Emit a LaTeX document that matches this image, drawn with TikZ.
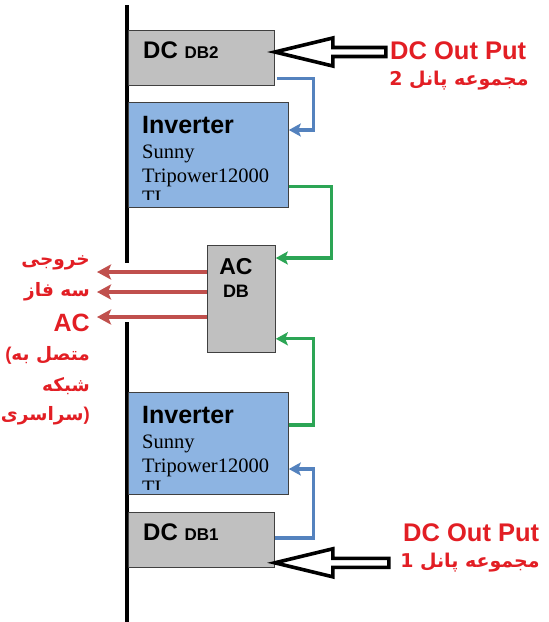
\documentclass[tikz,border=0pt]{standalone}
\usepackage{fontspec}
\setmainfont{Liberation Sans}
\newfontfamily\serifpart{Liberation Serif}
\newfontfamily\arabicfont[Script=Arabic]{DejaVu Sans}
\TeXXeTstate=1
\usetikzlibrary{positioning,arrows.meta,calc}

\definecolor{boxgrey}{RGB}{192,192,192}
\definecolor{invblue}{RGB}{141,180,226}
\definecolor{dcblue}{RGB}{84,130,190}
\definecolor{acgreen}{RGB}{44,165,85}
\definecolor{outred}{RGB}{192,80,77}
\definecolor{labelred}{RGB}{226,30,36}

\begin{document}
\begin{tikzpicture}[x=1pt, y=-1pt,
  dbbox/.style={draw=black!75, line width=0.8pt, fill=boxgrey, inner sep=0pt, anchor=north west},
  invbox/.style={dbbox, fill=invblue},
  dcflow/.style={draw=dcblue, line width=3.2pt, -{Stealth[length=12pt,width=13pt,inset=2.5pt]}},
  acflow/.style={dcflow, draw=acgreen},
  gridout/.style={draw=outred, line width=4.2pt, -{Stealth[length=14pt,width=15pt,inset=3pt]}},
  bigarrow/.style={draw=black, line width=3.6pt, fill=white, line join=miter},
  redlbl/.style={text=labelred, font=\bfseries, inner sep=0pt},
  boxtxt/.style={inner sep=0pt, anchor=base west}]
\useasboundingbox (0,0) rectangle (549,622);
% the board rail, broken where the AC outputs pass
\draw[line width=3.6pt] (127,5) -- (127,263);
\draw[line width=3.6pt] (127,322) -- (127,622);

% boxes, top to bottom
\node[dbbox, minimum width=146pt, minimum height=55pt] (db2) at (128,30) {};
\node[invbox, minimum width=160pt, minimum height=105pt] (invA) at (128,102) {};
\node[dbbox, minimum width=68pt, minimum height=107pt] (acdb) at (207,245) {};
\node[invbox, minimum width=160pt, minimum height=102pt] (invB) at (128,392) {};
\node[dbbox, minimum width=146pt, minimum height=55pt] (db1) at (128,512) {};

\foreach \b/\n in {db2/2, db1/1}{%
  \node[boxtxt] (\b txt) at ($(\b.north west)+(15,28)$)
    {\fontsize{24}{24}\selectfont\bfseries DC \fontsize{17}{17}\selectfont DB\n};}

\foreach \inv in {invA, invB}{%
  \node[boxtxt, font=\fontsize{25}{25}\selectfont\bfseries] (\inv name) at ($(\inv.north west)+(14,31)$) {Inverter};
  \node[boxtxt, font=\fontsize{20.5}{20.5}\selectfont\serifpart] (\inv sunny) at ($(\inv.north west)+(14,56)$) {Sunny};
  \node[boxtxt, font=\fontsize{20.5}{20.5}\selectfont\serifpart] (\inv model) at ($(\inv.north west)+(14,80)$) {Tripower12000};
  \begin{scope}
    \clip ($(\inv.north west)+(1,1)$) rectangle ($(\inv.north east)+(-1,97)$);
    \node[boxtxt, font=\fontsize{20.5}{20.5}\selectfont\serifpart] (\inv tl) at ($(\inv.north west)+(14,102)$) {TL};
  \end{scope}}

\node[inner sep=0pt, anchor=base, font=\fontsize{23}{23}\selectfont\bfseries] (actop) at (236,274) {AC};
\node[inner sep=0pt, anchor=base, font=\fontsize{18}{18}\selectfont\bfseries] (acsub) at (236,297) {DB};

% DC feeds into the inverters
\draw[dcflow] ($(db2.south east)+(2,-7)$) -- ++(37,0) |- ($(invA.north east)+(0,28)$);
\draw[dcflow] ($(db1.north east)+(0,26)$) -- ++(39,0) |- ($(invB.north east)+(0,77)$);
% AC from the inverters
\draw[acflow] ($(invA.south east)+(0,-21)$) -- ++(43,0) |- ($(acdb.north east)+(0,13)$);
\draw[acflow] ($(invB.north east)+(0,33)$) -- ++(25,0) |- ($(acdb.south east)+(0,-14)$);

% three phase output
\foreach \dy [count=\i] in {27,47,72}{%
  \coordinate (phase\i) at ($(acdb.north west)+(-110,\dy)$);
  \draw[gridout] ($(acdb.north west)+(0,\dy)$) -- (phase\i);}

% panel inputs
\node[redlbl, anchor=west, font=\fontsize{25.5}{25.5}\selectfont\bfseries] (out2) at (390,51) {DC Out Put};
\node[redlbl, font=\fontsize{19}{19}\selectfont\arabicfont\bfseries] (pan2) at (459,81) {\beginR مجموعه پانل 2\endR};
\node[redlbl, anchor=west, font=\fontsize{25.5}{25.5}\selectfont\bfseries] (out1) at (403,533) {DC Out Put};
\node[redlbl, font=\fontsize{19}{19}\selectfont\arabicfont\bfseries] (pan1) at (470,563) {\beginR مجموعه پانل 1\endR};

\coordinate (tip2) at ($(db2.north east)+(0,22)$);
\coordinate (tip1) at ($(db1.south east)+(0,-5)$);
\foreach \t/\s in {tip2/53, tip1/56}{%
  \draw[bigarrow] (\t) -- ++(58,-14) -- ++(0,9.5) -- ++(\s,0) -- ++(0,9) -- ++(-\s,0) -- ++(0,9.5) -- cycle;}

% grid side label
\tikzset{gridlbl/.style={redlbl, anchor=east, font=\fontsize{18.5}{18.5}\selectfont\arabicfont\bfseries}}
\node[gridlbl] (g1) at (90,263) {\beginR خروجی\endR};
\node[gridlbl] (g2) at (90,292) {\beginR سه فاز\endR};
\node[redlbl, anchor=east, font=\fontsize{25}{25}\selectfont\bfseries] (g3) at (90,323) {AC};
\node[gridlbl] (g4) at (90,355) {\hbox{\normalfont\bfseries(}\hbox{\beginR متصل به\endR}};
\node[gridlbl] (g5) at (90,386) {\beginR شبکه\endR};
\node[gridlbl] (g6) at (90,416) {\hbox{\beginR سراسری\endR}\hbox{\normalfont\bfseries)}};
\end{tikzpicture}
\end{document}
